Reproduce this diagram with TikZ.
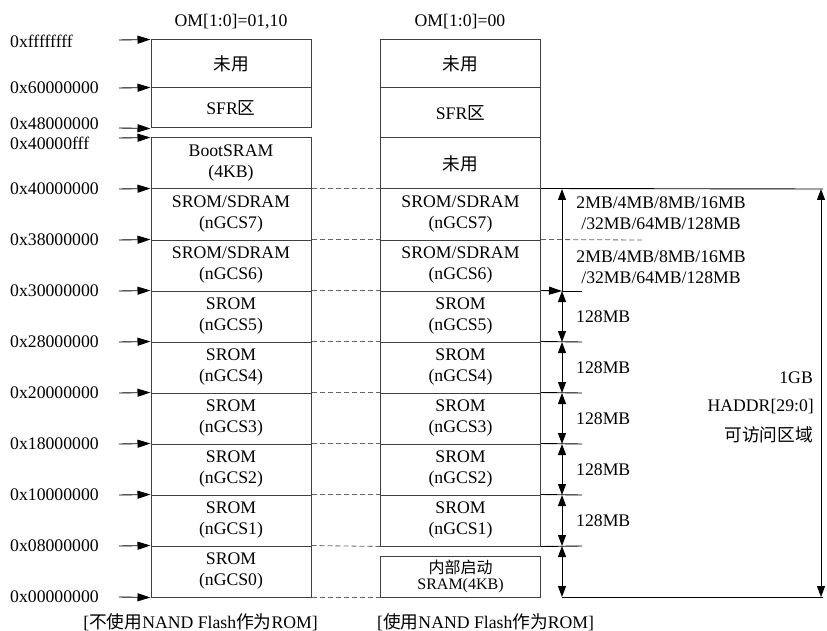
\documentclass[tikz,border=0pt]{standalone}
\usepackage{fontspec}
\setmainfont{Liberation Serif}
\newfontfamily\cjk{Noto Sans CJK SC}
\usetikzlibrary{arrows.meta}
\begin{document}
\begin{tikzpicture}[x=1pt,y=-1pt,
  every node/.style={font=\fontsize{17.7}{21}\selectfont, inner sep=0pt},
  cell/.style={draw=black!75, line width=1pt, minimum width=160pt, align=center},
  ln/.style={line width=0.9pt, black},
  dsh/.style={line width=0.8pt, black!60, dash pattern=on 5pt off 3pt},
  arr/.style={ln, -{Triangle[length=13pt,width=8pt]}},
  uarr/.style={ln, -{Triangle[length=11pt,width=8pt]}},
  darr/.style={ln, {Triangle[length=11pt,width=8pt]}-{Triangle[length=11pt,width=8pt]}},
  addr/.style={anchor=west},
]
\useasboundingbox (0,0) rectangle (827,631);

% headers
\node (h1) at (231,22) {OM[1:0]=01,10};
\node (h2) at (460,22) {OM[1:0]=00};

% left column
\node[cell, minimum height=48pt] (L1) at (231,64) {\cjk 未用};
\node[cell, minimum height=40pt] (L2) at (231,108) {SFR{\cjk 区}};
\node[cell, minimum height=51pt] (L3) at (231,163.5) {BootSRAM\\(4KB)};
\node[cell, minimum height=51pt] (L4) at (231,214.5) {SROM/SDRAM\\(nGCS7)};
\node[cell, minimum height=51pt] (L5) at (231,265.5) {SROM/SDRAM\\(nGCS6)};
\node[cell, minimum height=51pt] (L6) at (231,316.5) {SROM\\(nGCS5)};
\node[cell, minimum height=51pt] (L7) at (231,367.5) {SROM\\(nGCS4)};
\node[cell, minimum height=51pt] (L8) at (231,418.5) {SROM\\(nGCS3)};
\node[cell, minimum height=51pt] (L9) at (231,469.5) {SROM\\(nGCS2)};
\node[cell, minimum height=51pt] (L10) at (231,520.5) {SROM\\(nGCS1)};
\node[cell, minimum height=51pt] (L11) at (231,571.5) {SROM\\(nGCS0)};

% right column
\node[cell, minimum height=48pt] (R1) at (460.5,64) {\cjk 未用};
\node[cell, minimum height=50pt] (R2) at (460.5,113) {SFR{\cjk 区}};
\node[cell, minimum height=51pt] (R3) at (460.5,163.5) {\cjk 未用};
\node[cell, minimum height=51pt] (R4) at (460.5,214.5) {SROM/SDRAM\\(nGCS7)};
\node[cell, minimum height=51pt] (R5) at (460.5,265.5) {SROM/SDRAM\\(nGCS6)};
\node[cell, minimum height=51pt] (R6) at (460.5,316.5) {SROM\\(nGCS5)};
\node[cell, minimum height=51pt] (R7) at (460.5,367.5) {SROM\\(nGCS4)};
\node[cell, minimum height=51pt] (R8) at (460.5,418.5) {SROM\\(nGCS3)};
\node[cell, minimum height=51pt] (R9) at (460.5,469.5) {SROM\\(nGCS2)};
\node[cell, minimum height=51pt] (R10) at (460.5,520.5) {SROM\\(nGCS1)};
\node[cell, minimum height=41pt, font=\fontsize{16}{16}\selectfont] (R11) at (460.5,576.5) {{\cjk 内部启动}\\SRAM(4KB)};

% address labels
\node[addr] (a1) at (10,41) {0xffffffff};
\node[addr] (a2) at (10,88) {0x60000000};
\node[addr] (a3) at (10,124) {0x48000000};
\node[addr] (a4) at (10,143) {0x40000fff};
\node[addr] (a5) at (10,189) {0x40000000};
\node[addr] (a6) at (10,240) {0x38000000};
\node[addr] (a7) at (10,291) {0x30000000};
\node[addr] (a8) at (10,342) {0x28000000};
\node[addr] (a9) at (10,393) {0x20000000};
\node[addr] (a10) at (10,444) {0x18000000};
\node[addr] (a11) at (10,495) {0x10000000};
\node[addr] (a12) at (10,546) {0x08000000};
\node[addr] (a13) at (10,597) {0x00000000};

% address arrows
\coordinate (p1) at (119,40);
\coordinate (p2) at (119,88);
\coordinate (p3) at (119,128);
\coordinate (p4) at (119,138);
\coordinate (p5) at (119,189);
\coordinate (p6) at (119,240);
\coordinate (p7) at (119,291);
\coordinate (p8) at (119,342);
\coordinate (p9) at (119,393);
\coordinate (p10) at (119,444);
\coordinate (p11) at (119,495);
\coordinate (p12) at (119,546);
\coordinate (p13) at (119,597);
\draw[arr] (p1) -- (L1.north west);
\draw[arr] (p2) -- (L2.north west);
\draw[arr] (p3) -- (L2.south west);
\draw[arr] (p4) -- (L3.north west);
\draw[arr] (p5) -- (L4.north west);
\draw[arr] (p6) -- (L5.north west);
\draw[arr] (p7) -- (L6.north west);
\draw[arr] (p8) -- (L7.north west);
\draw[arr] (p9) -- (L8.north west);
\draw[arr] (p10) -- (L9.north west);
\draw[arr] (p11) -- (L10.north west);
\draw[arr] (p12) -- (L11.north west);
\draw[arr] (p13) -- (L11.south west);

% dashed links between columns
\draw[dsh] (L4.north east) -- (R4.north west);
\draw[dsh] (L5.north east) -- (R5.north west);
\draw[dsh] (L6.north east) -- (R6.north west);
\draw[dsh] (L7.north east) -- (R7.north west);
\draw[dsh] (L8.north east) -- (R8.north west);
\draw[dsh] (L9.north east) -- (R9.north west);
\draw[dsh] (L10.north east) -- (R10.north west);
\draw[dsh] (L11.north east) -- (R10.south west);
\draw[dsh] (L11.south east) -- (R11.south west);
\coordinate (d6) at (643,240);
\draw[dsh] (R5.north east) -- (d6);

% right side size marks
\coordinate (v1) at (562,189);
\coordinate (v2) at (562,291);
\coordinate (v3) at (562,342);
\coordinate (v4) at (562,393);
\coordinate (v5) at (562,444);
\coordinate (v6) at (562,495);
\coordinate (v7) at (562,546);
\coordinate (v8) at (562,597);
\coordinate (t2) at (582,291);
\coordinate (t3) at (582,342);
\coordinate (t4) at (582,393);
\coordinate (t5) at (582,444);
\coordinate (t6) at (582,495);
\coordinate (t7) at (582,546);
\coordinate (g1) at (823,189);
\coordinate (g2) at (823,597);
\coordinate (b1) at (821,189);
\coordinate (b2) at (821,597);

\draw[ln] (R4.north east) -- (g1);
\draw[ln] (v8) -- (g2);
\draw[arr] (R6.north east) -- (v2);
\draw[ln] (v2) -- (t2);
\draw[ln] (R7.north east) -- (t3);
\draw[ln] (R8.north east) -- (t4);
\draw[ln] (R9.north east) -- (t5);
\draw[ln] (R10.north east) -- (t6);
\draw[ln] (R10.south east) -- (t7);

\draw[uarr] (v2) -- (v1);
\draw[darr] (v2) -- (v3);
\draw[darr] (v3) -- (v4);
\draw[darr] (v4) -- (v5);
\draw[darr] (v5) -- (v6);
\draw[darr] (v6) -- (v7);
\draw[darr] (v7) -- (v8);
\draw[darr] (b1) -- (b2);

% size labels
\node[align=center] (s1) at (661,213) {2MB/4MB/8MB/16MB\\/32MB/64MB/128MB};
\node[align=center] (s2) at (661,267) {2MB/4MB/8MB/16MB\\/32MB/64MB/128MB};
\node[anchor=west] (m1) at (576,317) {128MB};
\node[anchor=west] (m2) at (576,368) {128MB};
\node[anchor=west] (m3) at (576,419) {128MB};
\node[anchor=west] (m4) at (576,470) {128MB};
\node[anchor=west] (m5) at (576,521) {128MB};

\node[anchor=east] (g1t) at (813,378) {1GB};
\node[anchor=east] (g2t) at (814,407) {HADDR[29:0]};
\node[anchor=east] (g3t) at (813,435) {\cjk 可访问区域};

% captions
\node[anchor=east] (c1) at (318,622) {[{\cjk 不使用}NAND Flash{\cjk 作为}ROM]};
\node[anchor=west] (c2) at (377,622) {[{\cjk 使用}NAND Flash{\cjk 作为}ROM]};
\end{tikzpicture}
\end{document}
